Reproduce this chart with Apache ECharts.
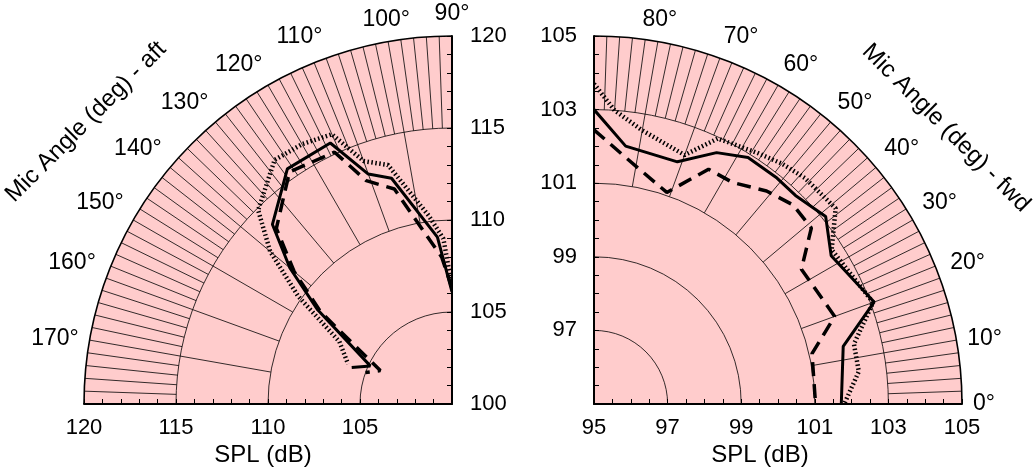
<!DOCTYPE html>
<html><head><meta charset="utf-8">
<script src="https://cdn.jsdelivr.net/npm/echarts@6/dist/echarts.min.js"></script>
<style>html,body{margin:0;padding:0;background:#fff}#c{width:1033px;height:474px}#err{position:absolute;left:0;top:0;font:10px monospace;color:red}</style>
</head><body><div id="c"></div><div id="err"></div>
<script>
// ---- data: [mic angle (deg), SPL (dB)] ----
const aftSolid  = [[90,106.1],[95,109.1],[105,112.7],[110,113.3],[115,115.65],[125,115.6],[135,113.8],[140,111.5],[145,108.9],[155,104.9],[160,105.8]];
const aftDashed = [[90,106.3],[94,108.0],[99,109.4],[105,112.1],[111,113.0],[115,115.1],[125,115.4],[135,113.5],[140,111.2],[145,108.7],[155,104.3],[160,105.0]];
const aftDotted = [[90,106.4],[93,109.0],[97,110.3],[105,113.45],[110,114.05],[114,116.05],[120,116.3],[126,116.4],[135,114.9],[140,112.9],[145,110.2],[151,107.0],[159,106.05]];
const fwdSolid  = [[90,103.0],[83,102.06],[71,101.96],[64,102.6],[58,102.9],[51,102.9],[46,102.88],[39,103.1],[32,102.6],[20,103.1],[13,101.95],[0,101.72]];
const fwdDashed = [[90,102.45],[83,101.78],[71,101.08],[64,102.1],[58,102.1],[51,102.45],[45,102.65],[39,102.6],[33,101.72],[20,101.96],[13,101.08],[0,101.02]];
const fwdDotted = [[90,103.7],[86,103.0],[80,102.55],[70,102.2],[65,102.96],[57,103.14],[52,103.29],[47,103.4],[39,103.45],[33,102.7],[20,103.07],[13,102.25],[7,102.25],[0,101.8]];
// ---- axes ----
const aftAngleRange = [90, 180];
const fwdAngleRange = [0, 90];
const aftSplRange = [100, 120];
const fwdSplRange = [95, 105];
const aftSplTick = 5, fwdSplTick = 2;
const aftMinorSplit = 5, fwdMinorSplit = 4;
const angleTick = 10, fineAngleTick = 2;
const aftArcs = [105, 110, 115];
const fwdArcs = [97, 99, 101, 103];
const aftSpokeBands = [[110, 115, angleTick], [115, 120, fineAngleTick]];
const fwdSpokeBands = [[101, 103, angleTick], [103, 105, fineAngleTick]];
const texts = {aftName: 'Mic Angle (deg) - aft', fwdName: 'Mic Angle (deg) - fwd', spl: 'SPL (dB)'};

// ---- layout & style ----
const FONT = '"Liberation Sans", Arial, sans-serif';
const R = 368;
const CL = [452, 404], CR = [594, 404];
const PINK = '#ffcccc';
const tickLab = {color: '#000', fontSize: 22, fontFamily: FONT};
const angLab = {color: '#000', fontSize: 23, fontFamily: FONT};
const BLACK = '#000';

const polar = [], angleAxis = [], radiusAxis = [];
function addPolar(center, radius, ang, rad) {
  const i = polar.length;
  polar.push({center, radius});
  angleAxis.push(Object.assign({polarIndex: i, type: 'value'}, ang));
  radiusAxis.push(Object.assign({polarIndex: i, type: 'value'}, rad));
  return i;
}
const rpx = (v, rng) => R * (v - rng[0]) / (rng[1] - rng[0]);
const hiddenRad = rng => ({min: rng[0], max: rng[1], show: false});
const quiet = {axisLine: {show: false}, axisTick: {show: false}, axisLabel: {show: false},
  splitLine: {show: false}, splitArea: {show: false}};

function buildPlot(C, aRng, sRng, startA, endA, axisStart2, splStep, minorSplit, arcs, bands, mainLabelOpt, otherLabelOpt, mainTick, otherTick) {
  const ang = {min: aRng[0], max: aRng[1], startAngle: startA, endAngle: endA, clockwise: false};
  // background fill: one sector over the whole quadrant
  addPolar(C, [0, R], Object.assign({}, ang, quiet, {
    interval: aRng[1] - aRng[0], z: 0,
    splitArea: {show: true, areaStyle: {color: [PINK, 'rgba(0,0,0,0)']}}
  }), hiddenRad(sRng));
  // main: outer arc, angle labels, series, first straight edge
  const main = addPolar(C, [0, R], Object.assign({}, ang, {
    interval: angleTick, z: 3,
    axisLine: {show: true, lineStyle: {color: BLACK, width: 1.6}}, axisTick: {show: false},
    axisLabel: Object.assign({margin: 11, formatter: v => (Number(v) === aRng[1] ? '' : v + '°')}, angLab),
    splitLine: {show: false}, splitArea: {show: false}
  }), {
    min: sRng[0], max: sRng[1], interval: splStep, z: 4,
    axisLine: {show: true, lineStyle: {color: BLACK, width: 2}},
    axisTick: {show: true, length: mainTick, lineStyle: {color: BLACK, width: 1}},
    minorTick: {show: true, splitNumber: minorSplit, length: mainTick, lineStyle: {color: BLACK, width: 1}},
    axisLabel: Object.assign({}, tickLab, mainLabelOpt),
    splitLine: {show: false}, minorSplitLine: {show: false}, splitArea: {show: false}
  });
  // second straight edge
  addPolar(C, [0, R], Object.assign({}, ang, {startAngle: axisStart2, endAngle: startA, show: false}), {
    min: sRng[0], max: sRng[1], interval: splStep, z: 4,
    axisLine: {show: true, lineStyle: {color: BLACK, width: 2}},
    axisTick: {show: true, length: otherTick, lineStyle: {color: BLACK, width: 1}},
    minorTick: {show: true, splitNumber: minorSplit, length: otherTick, lineStyle: {color: BLACK, width: 1}},
    axisLabel: Object.assign({}, tickLab, otherLabelOpt),
    splitLine: {show: false}, minorSplitLine: {show: false}, splitArea: {show: false}
  });
  // spoke bands
  bands.forEach(b => addPolar(C, [rpx(b[0], sRng), rpx(b[1], sRng)], Object.assign({}, ang, quiet, {
    interval: b[2], z: 2, splitLine: {show: true, lineStyle: {color: BLACK, width: 0.8}}
  }), hiddenRad(sRng)));
  // constant-SPL arcs
  arcs.forEach(a => addPolar(C, [0, rpx(a, sRng)], Object.assign({}, ang, quiet, {
    interval: angleTick, z: 2, axisLine: {show: true, lineStyle: {color: BLACK, width: 0.8}}
  }), hiddenRad(sRng)));
  return main;
}

const leftMain = buildPlot(CL, aftAngleRange, aftSplRange, 90, 180, 180, aftSplTick, aftMinorSplit, aftArcs, aftSpokeBands,
  {margin: -18, align: 'left', verticalAlign: 'middle'},      // vertical edge: labels right of it
  {showMinLabel: false, margin: 13},                          // bottom edge: labels below
  5, -5);
const rightMain = buildPlot(CR, fwdAngleRange, fwdSplRange, 0, 90, 90, fwdSplTick, fwdMinorSplit, fwdArcs, fwdSpokeBands,
  {margin: -13, align: 'center', verticalAlign: 'top'},       // bottom edge: labels below
  {showMinLabel: false, margin: 17},                          // vertical edge: labels left of it
  5, -5);

const styles = {
  solid:  {color: BLACK, width: 3, type: 'solid'},
  dashed: {color: BLACK, width: 3.5, type: [14, 8]},
  dotted: {color: BLACK, width: 4.5, type: [1.5, 2.5], cap: 'butt'}
};
function mk(name, data, pi, st) {
  return {name, type: 'line', coordinateSystem: 'polar', polarIndex: pi, symbol: 'none', showSymbol: false, z: 6,
    data: data.map(d => [d[1], d[0]]), lineStyle: styles[st]};
}
const series = [
  mk('aft solid', aftSolid, leftMain, 'solid'), mk('aft dashed', aftDashed, leftMain, 'dashed'), mk('aft dotted', aftDotted, leftMain, 'dotted'),
  mk('fwd solid', fwdSolid, rightMain, 'solid'), mk('fwd dashed', fwdDashed, rightMain, 'dashed'), mk('fwd dotted', fwdDotted, rightMain, 'dotted')
];
const tstyle = t => ({text: t, fill: BLACK, fontSize: 24, fontFamily: FONT, align: 'center', verticalAlign: 'middle'});
const graphic = [
  {type: 'text', x: 263, y: 455, style: tstyle(texts.spl)},
  {type: 'text', x: 760, y: 455, style: tstyle(texts.spl)},
  {type: 'text', x: 86, y: 122, rotation: Math.PI / 4, style: tstyle(texts.aftName)},
  {type: 'text', x: 946, y: 128, rotation: -Math.PI / 4, style: tstyle(texts.fwdName)}
];
try {
  const chart = echarts.init(document.getElementById('c'), null, {renderer: 'canvas'});
  chart.setOption({animation: false, backgroundColor: '#fff', polar, angleAxis, radiusAxis, series, graphic});
} catch (e) { document.getElementById('err').textContent = 'ERR ' + e.message; }
</script></body></html>
